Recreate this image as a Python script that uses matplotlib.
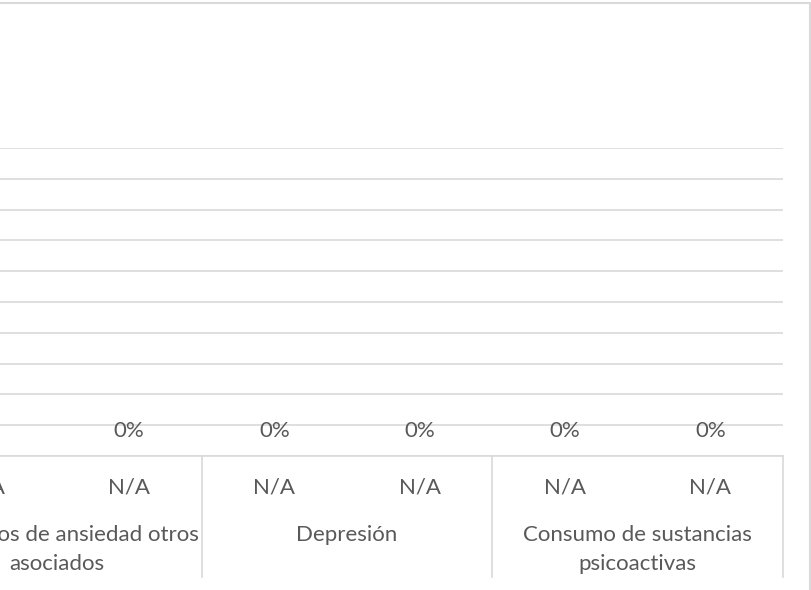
import matplotlib
matplotlib.use("Agg")
import matplotlib.pyplot as plt
from matplotlib.patches import Rectangle
from matplotlib.lines import Line2D
from matplotlib.ticker import MultipleLocator

# data
groups = ["Trastornos de ansiedad otros\nasociados", "Depresión", "Consumo de sustancias\npsicoactivas"]
sub_labels = ["N/A", "N/A", "N/A", "N/A", "N/A", "N/A"]
values = [0, 0, 0, 0, 0, 0]
per_group = 2

TEXT = "#595959"
GRID = "#d9d9d9"
W, H = 812, 590

plt.rcParams["font.family"] = ["Lato", "DejaVu Sans"]
fig = plt.figure(figsize=(W / 100, H / 100), dpi=100)

# plot area: partly cut off on the left, like the cropped original
x0, x1, yb, yt = -89, 783, 456, 148
ax = fig.add_axes([x0 / W, (H - yb) / H, (x1 - x0) / W, (yb - yt) / H])

xs = list(range(len(values)))
ax.bar(xs, values, width=0.6, color="#4472c4")
ax.set_xlim(-0.5, len(values) - 0.5)
ax.set_ylim(0, 1)
ax.yaxis.set_major_locator(MultipleLocator(0.1))
ax.grid(axis="y", color=GRID, linewidth=1.2)
ax.set_axisbelow(True)
for s in ["top", "right", "left"]:
    ax.spines[s].set_visible(False)
ax.spines["bottom"].set_color(GRID)
ax.spines["bottom"].set_linewidth(1.2)
ax.tick_params(left=False, bottom=False, labelleft=False, labelbottom=False)

# data labels
for x, v in zip(xs, values):
    ax.annotate(f"{v:.0%}", (x, v), xytext=(0, 18), textcoords="offset points",
                ha="center", va="center", fontsize=16, color=TEXT)

# multi-level category axis
tr = ax.get_xaxis_transform()
for x, lab in zip(xs, sub_labels):
    ax.annotate(lab, (x, 0), xycoords=tr, xytext=(0, -22.5), textcoords="offset points",
                ha="center", va="center", fontsize=16, color=TEXT, annotation_clip=False)
for g, name in enumerate(groups):
    cx = g * per_group + (per_group - 1) / 2
    ax.annotate(name, (cx, 0), xycoords=tr, xytext=(0, -49.5), textcoords="offset points",
                ha="center", va="top", fontsize=16, color=TEXT, linespacing=1.6,
                annotation_clip=False)
    edge = g * per_group + per_group - 0.5
    ax.add_line(Line2D([edge, edge], [0, -121 / (yb - yt)], transform=tr, color=GRID,
                       linewidth=1.2, clip_on=False))

# chart area border
fig.add_artist(Rectangle((-0.05, -0.05), (811 + 40) / W, (H - 3) / H + 0.05,
                         transform=fig.transFigure, fill=False, edgecolor=GRID, linewidth=1.5))

fig.savefig("out.png", dpi=100, facecolor="white")
